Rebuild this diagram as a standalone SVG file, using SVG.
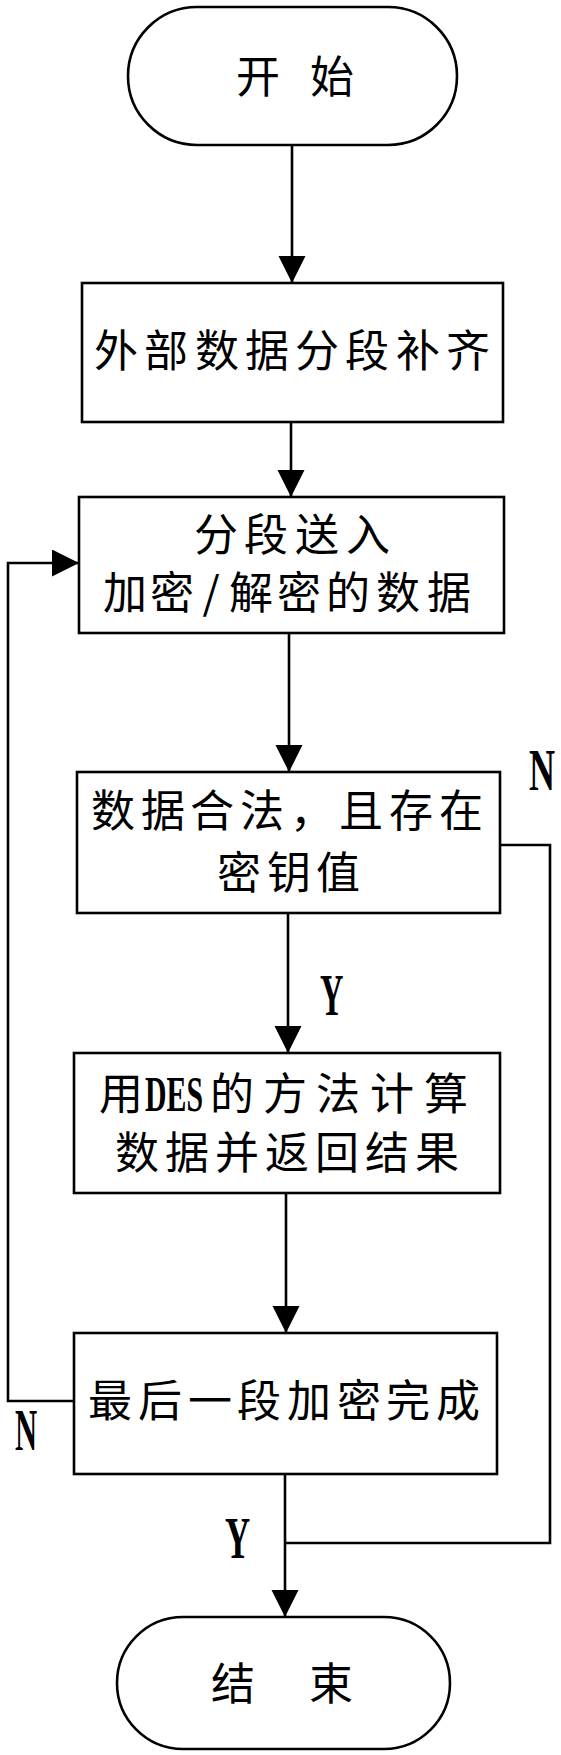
<svg xmlns="http://www.w3.org/2000/svg" width="561" height="1755" viewBox="0 0 561 1755">
<style>
.shape{fill:#fff;stroke:#000;stroke-width:2.6}
.line{fill:none;stroke:#000;stroke-width:2.6}
.cjk{font-family:"Noto Sans CJK SC","Noto Sans CJK TC",sans-serif;font-size:44px;fill:#000;text-anchor:middle}
.lab{font-family:"Liberation Serif",serif;font-size:60px;font-weight:bold;fill:#000}
.ser{font-family:"Liberation Serif",serif;font-size:50px;font-weight:bold}
</style>
<defs>
<marker id="arr" markerUnits="userSpaceOnUse" markerWidth="28" markerHeight="28" refX="27" refY="13.5" orient="auto">
<path d="M0,0 L27,13.5 L0,27 Z" fill="#000"/>
</marker>
</defs>
<rect width="561" height="1755" fill="#fff"/>
<g id="connectors">
<line class="line" x1="292" y1="145" x2="292" y2="283" marker-end="url(#arr)"/>
<line class="line" x1="291" y1="422" x2="291" y2="497" marker-end="url(#arr)"/>
<line class="line" x1="289" y1="633" x2="289" y2="772" marker-end="url(#arr)"/>
<line class="line" x1="288" y1="913" x2="288" y2="1053" marker-end="url(#arr)"/>
<line class="line" x1="286" y1="1193" x2="286" y2="1333" marker-end="url(#arr)"/>
<line class="line" x1="285" y1="1474" x2="285" y2="1617" marker-end="url(#arr)"/>
<polyline class="line" points="500,845 550,845 550,1543 285,1543"/>
<polyline class="line" points="74,1401 8,1401 8,563 79,563" marker-end="url(#arr)"/>
<text class="lab" transform="translate(529,790) scale(0.6,1)">N</text>
<text class="lab" transform="translate(320,1015) scale(0.54,1)">Y</text>
<text class="lab" transform="translate(15,1450) scale(0.51,1)">N</text>
<text class="lab" transform="translate(225,1558) scale(0.58,1)">Y</text>
</g>
<g id="start">
<rect class="shape" x="128" y="7" width="329" height="138" rx="69" ry="69"/>
<text class="cjk" x="258 295 332" y="93">开 始</text>
</g>
<g id="pad">
<rect class="shape" x="82" y="283" width="421" height="139"/>
<text class="cjk" x="116 166 217 267 317 367 418 468" y="367">外部数据分段补齐</text>
</g>
<g id="input">
<rect class="shape" x="79" y="497" width="425" height="136"/>
<text class="cjk" x="216 266 317 368" y="551">分段送入</text>
<text class="cjk" x="125 172 211 251 299 348 398 449" y="609">加密/解密的数据</text>
</g>
<g id="check">
<rect class="shape" x="77" y="772" width="423" height="141"/>
<text class="cjk" x="113 163 212 262 312 361 411 461" y="827">数据合法，且存在</text>
<text class="cjk" x="239 289 338" y="889">密钥值</text>
</g>
<g id="des">
<rect class="shape" x="74" y="1053" width="426" height="140"/>
<text class="cjk" y="1110"><tspan x="121">用</tspan><tspan class="ser" x="174" y="1111" textLength="58" lengthAdjust="spacingAndGlyphs">DES</tspan><tspan x="232 285 338 392 446" y="1110">的方法计算</tspan></text>
<text class="cjk" x="137 187 237 287 337 387 437" y="1169">数据并返回结果</text>
</g>
<g id="last">
<rect class="shape" x="74" y="1333" width="423" height="141"/>
<text class="cjk" x="110 160 210 259 309 359 408 458" y="1417">最后一段加密完成</text>
</g>
<g id="end">
<rect class="shape" x="117" y="1617" width="333" height="132" rx="66" ry="66"/>
<text class="cjk" x="233 282 331" y="1700">结 束</text>
</g>
</svg>
